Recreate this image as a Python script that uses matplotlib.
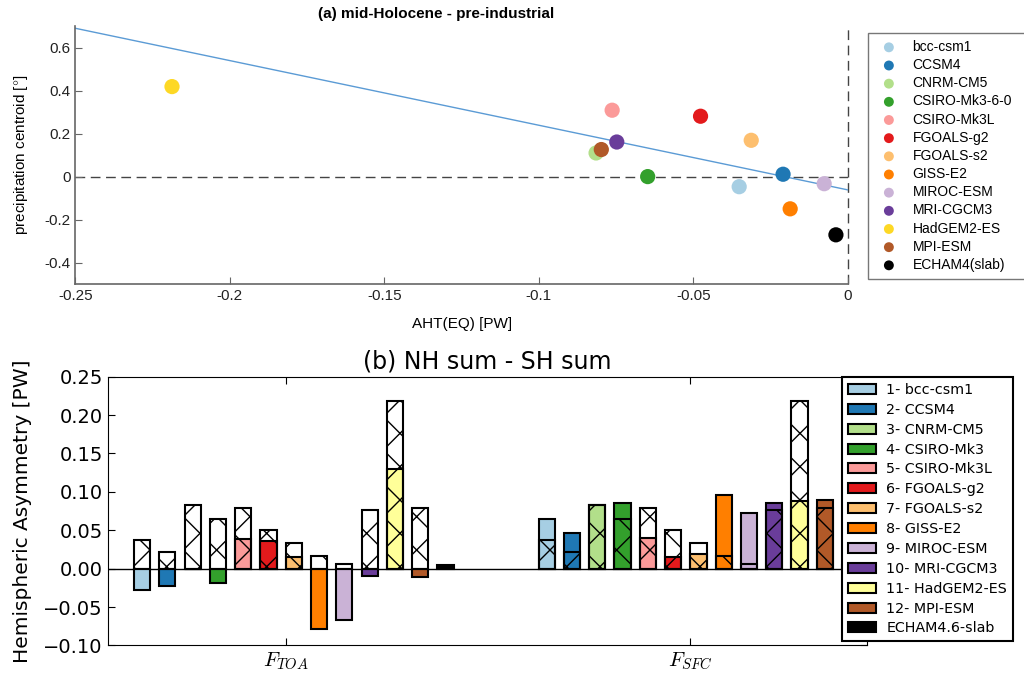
import numpy as np
import matplotlib
matplotlib.use("Agg")
import matplotlib.pyplot as plt
from matplotlib.patches import Patch

plt.rcParams['mathtext.fontset'] = 'cm'
plt.rcParams['hatch.linewidth'] = 1.0

# (a) scatter data
models_a = ['bcc-csm1', 'CCSM4', 'CNRM-CM5', 'CSIRO-Mk3-6-0', 'CSIRO-Mk3L',
            'FGOALS-g2', 'FGOALS-s2', 'GISS-E2', 'MIROC-ESM', 'MRI-CGCM3',
            'HadGEM2-ES', 'MPI-ESM', 'ECHAM4(slab)']
colors_a = ['#a6cee3', '#1f78b4', '#b2df8a', '#33a02c', '#fb9a99', '#e31a1c',
            '#fdbf6f', '#ff7f00', '#cab2d6', '#6a3d9a', '#fdd825', '#b15928', '#000000']
aht_eq = [-0.0352, -0.0210, -0.0815, -0.0648, -0.0763, -0.0477, -0.0313,
          -0.0187, -0.0077, -0.0748, -0.2187, -0.0798, -0.0039]
p_centroid = [-0.047, 0.011, 0.110, 0.000, 0.309, 0.281, 0.169,
              -0.150, -0.033, 0.161, 0.419, 0.126, -0.271]
fit_slope = -3.01
fit_intercept = -0.062
xticks_a = [-0.25, -0.2, -0.15, -0.1, -0.05, 0]
xticklabels_a = ['-0.25', '-0.2', '-0.15', '-0.1', '-0.05', '0']
yticks_a = [-0.4, -0.2, 0, 0.2, 0.4, 0.6]
yticklabels_a = ['-0.4', '-0.2', '0', '0.2', '0.4', '0.6']

# (b) bar data
models_b = ['1- bcc-csm1', '2- CCSM4', '3- CNRM-CM5', '4- CSIRO-Mk3', '5- CSIRO-Mk3L',
            '6- FGOALS-g2', '7- FGOALS-s2', '8- GISS-E2', '9- MIROC-ESM',
            '10- MRI-CGCM3', '11- HadGEM2-ES', '12- MPI-ESM', 'ECHAM4.6-slab']
colors_b = ['#a6cee3', '#1f78b4', '#b2df8a', '#33a02c', '#fb9a99', '#e31a1c',
            '#fdbf6f', '#ff7f00', '#cab2d6', '#6a3d9a', '#ffff99', '#b15928', '#000000']
f_toa = [-0.028, -0.023, 0.0, -0.019, 0.039, 0.036, 0.015, -0.079, -0.067,
         -0.010, 0.130, -0.011, 0.005]
f_sfc = [0.065, 0.046, 0.083, 0.085, 0.040, 0.015, 0.019, 0.096, 0.073,
         0.086, 0.088, 0.090, 0.005]
hatched = [0.037, 0.022, 0.083, 0.065, 0.079, 0.051, 0.033, 0.016, 0.006,
           0.076, 0.219, 0.079]
groups = ['$F_{TOA}$', '$F_{SFC}$']
yticks_b = [-0.10, -0.05, 0.0, 0.05, 0.10, 0.15, 0.20, 0.25]

fig = plt.figure(figsize=(10.24, 6.74), dpi=100)

# ---- panel (a)
ax1 = fig.add_axes([0.0735, 0.5786, 0.7546, 0.3825])
ax1.set_xlim(-0.25, 0)
ax1.set_ylim(-0.5, 0.7)
ax1.axhline(0, color='#444444', lw=1, ls=(0, (7, 4)), zorder=1)
ax1.axvline(0, color='#444444', lw=1, ls=(0, (7, 4)), zorder=1, clip_on=False)
xl = np.array(ax1.get_xlim())
ax1.plot(xl, fit_slope * xl + fit_intercept, color='#5b9bd5', lw=1, zorder=2)
for name, c, x, y in zip(models_a, colors_a, aht_eq, p_centroid):
    ax1.scatter(x, y, s=120, color=c, edgecolors='none', zorder=3, label=name)
for s in ['top', 'right']:
    ax1.spines[s].set_visible(False)
for s in ['left', 'bottom']:
    ax1.spines[s].set_color('#666666')
    ax1.spines[s].set_linewidth(1.2)
ax1.set_xticks(xticks_a, xticklabels_a, family='Liberation Sans', fontsize=11)
ax1.set_yticks(yticks_a, yticklabels_a, family='Liberation Sans', fontsize=11)
ax1.tick_params(direction='in', length=5, color='#666666', labelcolor='#222222')
ax1.set_xlabel('AHT(EQ) [PW]', family='Liberation Sans', fontsize=11, labelpad=10)
ax1.set_ylabel('precipitation centroid [$\\degree$]', family='Liberation Sans',
               fontsize=11, labelpad=10)
fig.text(436 / 1024, 1 - 14 / 674, '(a) mid-Holocene - pre-industrial',
         family='Liberation Sans', weight='bold', fontsize=11, ha='center', va='center')
leg1 = ax1.legend(loc='upper left', bbox_to_anchor=(0.8477, 0.589, 0.25, 0.362),
                  bbox_transform=fig.transFigure, mode='expand', borderaxespad=0,
                  prop={'family': 'Liberation Sans', 'size': 10}, markerscale=0.65,
                  scatterpoints=1, labelspacing=0.3, handlelength=2.0,
                  handletextpad=0.7, fancybox=False, framealpha=1, borderpad=0.5)
leg1.get_frame().set_edgecolor('#777777')
leg1.get_frame().set_linewidth(1.0)

# ---- panel (b)
ax2 = fig.add_axes([0.1052, 0.0423, 0.7412, 0.3988])
ax2.set_xlim(-0.44, 1.436)
ax2.set_ylim(-0.10, 0.25)
ax2.axhline(0, color='k', lw=1, zorder=1)
pitch = 0.0625
for g, vals in enumerate([f_toa, f_sfc]):
    xpos = g + (np.arange(len(vals)) - 6) * pitch
    ax2.bar(xpos, vals, width=0.04, align='edge', color=colors_b,
            edgecolor='k', linewidth=1.5, zorder=2)
    ax2.bar(xpos[:len(hatched)], hatched, width=0.04, align='edge', facecolor='none',
            edgecolor='k', hatch='x', linewidth=1.5, zorder=3)
ax2.set_xticks([0, 1], groups, fontsize=15)
ax2.set_yticks(yticks_b, ['{:.2f}'.format(v).replace('-', '\u2212') for v in yticks_b],
               fontsize=14)
ax2.tick_params(direction='in', top=True, right=True, length=5)
ax2.set_ylabel('Hemispheric Asymmetry [PW]', fontsize=14.5, labelpad=8)
ax2.set_title('(b) NH sum - SH sum', fontsize=17, pad=6)
handles = [Patch(facecolor=c, edgecolor='k', linewidth=1.5) for c in colors_b]
leg2 = ax2.legend(handles, models_b, loc='upper left', bbox_to_anchor=(0.8223, 0.4402),
                  bbox_transform=fig.transFigure, borderaxespad=0, fontsize=10.3,
                  labelspacing=0.41, handlelength=2.0, handletextpad=0.7,
                  fancybox=False, framealpha=1, edgecolor='k')
leg2.get_frame().set_linewidth(1.5)

fig.savefig('out.png', dpi=100)
